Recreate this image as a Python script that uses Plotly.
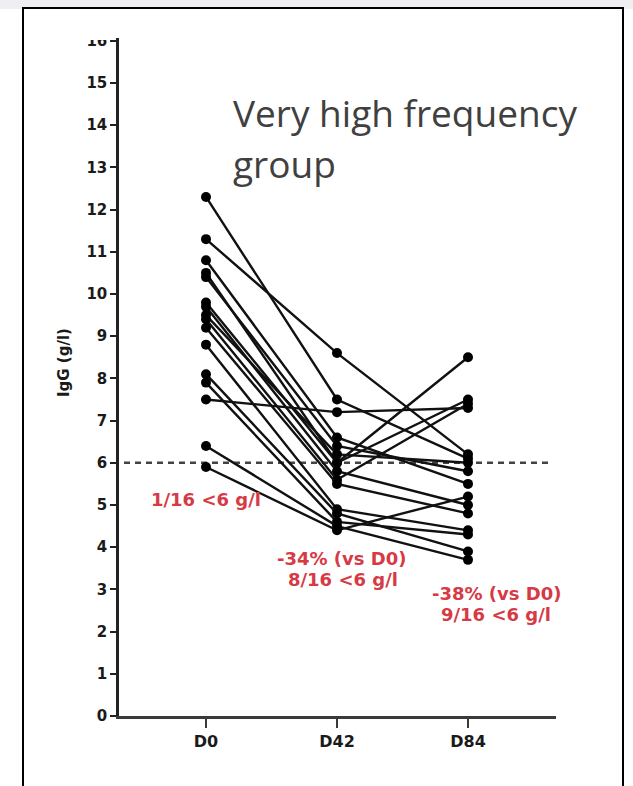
import plotly.graph_objects as go

# ---- data ----
timepoints = ["D0", "D42", "D84"]
d0 = [12.3, 11.3, 10.8, 10.5, 10.4, 9.8, 9.7, 9.5, 9.4, 9.2, 8.8, 8.1, 7.9, 7.5, 6.4, 5.9]
d42 = [7.5, 8.6, 6.6, 6.0, 6.4, 6.0, 5.8, 6.2, 5.6, 5.5, 4.9, 4.8, 4.6, 7.2, 4.5, 4.4]
d84 = [6.1, 6.2, 5.5, 7.5, 5.8, 8.5, 5.0, 6.0, 7.4, 4.8, 4.4, 3.9, 4.3, 7.3, 3.7, 5.2]
threshold = 6
y_ticks = list(range(0, 17))
title_lines = ["Very high frequency", "group"]
note_d0 = "1/16 <6 g/l"
note_d42 = ["-34% (vs D0)", "8/16 <6 g/l"]
note_d84 = ["-38% (vs D0)", "9/16 <6 g/l"]
y_title = "IgG (g/l)"

# ---- geometry (pixels) ----
W, H = 633, 786
L, R, T, B = 119, 556, 38, 716
unit = 42.2
cat_px = [206, 337, 468]
step = cat_px[1] - cat_px[0]


def px(p):
    return (p - L) / (R - L)


def py(q):
    return (B - q) / (B - T)


fig = go.Figure()
for a, b, c in zip(d0, d42, d84):
    fig.add_trace(go.Scatter(
        x=timepoints, y=[a, b, c], mode="lines+markers",
        line=dict(color="#111111", width=2.4),
        marker=dict(color="#000000", size=10),
        showlegend=False, hoverinfo="skip", cliponaxis=False))

tick_font = dict(family="DejaVu Sans", size=15, color="#1a1a1a", weight="bold")
fig.update_layout(
    width=W, height=H,
    margin=dict(l=L, r=W - R, t=T, b=H - B, pad=0),
    paper_bgcolor="white", plot_bgcolor="white",
    xaxis=dict(type="category", range=[(L - cat_px[0]) / step, (R - cat_px[0]) / step],
               showgrid=False, zeroline=False, showline=True, linecolor="#3a3a3a", linewidth=3,
               ticks="outside", ticklen=9, tickwidth=2, tickcolor="#3a3a3a",
               tickfont=dict(family="DejaVu Sans", size=16, color="#1a1a1a", weight="bold")),
    yaxis=dict(range=[0, (B - T) / unit], tickvals=y_ticks, ticktext=[str(v) for v in y_ticks],
               showgrid=False, zeroline=False, showline=True, linecolor="#222222", linewidth=2.5,
               ticks="outside", ticklen=6, tickwidth=2, tickcolor="#222222",
               tickfont=tick_font),
)

shapes = [
    # dashed threshold
    dict(type="line", xref="paper", yref="y", x0=px(124), x1=px(552), y0=threshold, y1=threshold,
         line=dict(color="#444444", width=2.5, dash="6px,5px"), layer="below"),
    # cover the clipped top of the "16" label
    dict(type="rect", xref="paper", yref="paper", x0=px(60), x1=px(114), y0=py(40), y1=py(12),
         fillcolor="white", line=dict(width=0), layer="above"),
    # top stripe
    dict(type="rect", xref="paper", yref="paper", x0=px(-5), x1=px(W + 5), y0=py(9), y1=py(-5),
         fillcolor="#efeef3", line=dict(width=0), layer="above"),
    # frame
    dict(type="rect", xref="paper", yref="paper", x0=px(23), x1=px(623), y0=py(H + 20), y1=py(8),
         fillcolor="rgba(0,0,0,0)", line=dict(color="#000000", width=2), layer="above"),
]
fig.update_layout(shapes=shapes)

red = "#d63a45"
red_font = dict(family="DejaVu Sans", size=18, color=red, weight="bold")
title_font = dict(family="Open Sans", size=37, color="#404040")
ann = []
ann.append(dict(text=title_lines[0], x=px(231), y=py(113), xanchor="left", yanchor="middle", font=title_font))
ann.append(dict(text=title_lines[1], x=px(231), y=py(163), xanchor="left", yanchor="middle", font=title_font))
ann.append(dict(text=note_d0, x=px(206), y=py(500), xanchor="center", yanchor="middle", font=red_font))
ann.append(dict(text=note_d42[0], x=px(341), y=py(558), xanchor="center", yanchor="middle", font=red_font))
ann.append(dict(text=note_d42[1], x=px(343), y=py(579), xanchor="center", yanchor="middle", font=red_font))
ann.append(dict(text=note_d84[0], x=px(496), y=py(593), xanchor="center", yanchor="middle", font=red_font))
ann.append(dict(text=note_d84[1], x=px(496), y=py(614), xanchor="center", yanchor="middle", font=red_font))
ann.append(dict(text=y_title, x=px(64), y=py(362), xanchor="center", yanchor="middle", textangle=-90,
                font=dict(family="DejaVu Sans", size=15, color="#1a1a1a", weight="bold")))
for a in ann:
    a.update(xref="paper", yref="paper", showarrow=False)
fig.update_layout(annotations=ann)

fig.write_html("out.html")
